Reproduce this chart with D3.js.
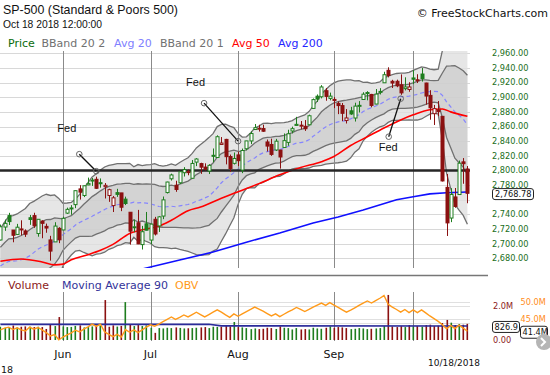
<!DOCTYPE html>
<html><head><meta charset="utf-8">
<script src="https://cdn.jsdelivr.net/npm/d3@7"></script>
<style>html,body{margin:0;padding:0;background:#fff;overflow:hidden}</style>
</head><body><svg id="c" width="550" height="375"></svg>
<script>
// ---------- DATA ----------
const dates = ["2018-05-10","2018-05-11","2018-05-14","2018-05-15","2018-05-16","2018-05-17","2018-05-18","2018-05-21","2018-05-22","2018-05-23","2018-05-24","2018-05-25","2018-05-29","2018-05-30","2018-05-31",
"2018-06-01","2018-06-04","2018-06-05","2018-06-06","2018-06-07","2018-06-08","2018-06-11","2018-06-12","2018-06-13","2018-06-14","2018-06-15","2018-06-18","2018-06-19","2018-06-20","2018-06-21","2018-06-22","2018-06-25","2018-06-26","2018-06-27","2018-06-28","2018-06-29",
"2018-07-02","2018-07-03","2018-07-05","2018-07-06","2018-07-09","2018-07-10","2018-07-11","2018-07-12","2018-07-13","2018-07-16","2018-07-17","2018-07-18","2018-07-19","2018-07-20","2018-07-23","2018-07-24","2018-07-25","2018-07-26","2018-07-27","2018-07-30","2018-07-31",
"2018-08-01","2018-08-02","2018-08-03","2018-08-06","2018-08-07","2018-08-08","2018-08-09","2018-08-10","2018-08-13","2018-08-14","2018-08-15","2018-08-16","2018-08-17","2018-08-20","2018-08-21","2018-08-22","2018-08-23","2018-08-24","2018-08-27","2018-08-28","2018-08-29","2018-08-30","2018-08-31",
"2018-09-04","2018-09-05","2018-09-06","2018-09-07","2018-09-10","2018-09-11","2018-09-12","2018-09-13","2018-09-14","2018-09-17","2018-09-18","2018-09-19","2018-09-20","2018-09-21","2018-09-24","2018-09-25","2018-09-26","2018-09-27","2018-09-28",
"2018-10-01","2018-10-02","2018-10-03","2018-10-04","2018-10-05","2018-10-08","2018-10-09","2018-10-10","2018-10-11","2018-10-12","2018-10-15","2018-10-16","2018-10-17","2018-10-18"];

const opens = [2705.0,2722.7,2738.3,2718.6,2712.6,2719.7,2717.4,2735.4,2738.3,2713.9,2730.9,2723.6,2705.1,2702.4,2720.9,
2718.7,2741.7,2748.5,2753.3,2774.8,2765.8,2780.2,2785.6,2787.9,2783.2,2777.8,2765.8,2752.0,2769.7,2769.3,2760.8,2742.9,2722.1,2728.5,2698.7,2727.1,
2704.9,2733.3,2724.2,2737.7,2769.8,2788.6,2779.8,2783.1,2796.9,2797.4,2789.3,2811.4,2809.4,2804.6,2799.2,2820.7,2817.7,2835.5,2842.4,2819.0,2809.7,
2821.2,2800.5,2829.6,2840.3,2855.9,2856.8,2857.2,2838.9,2835.5,2827.9,2827.9,2831.4,2838.3,2853.9,2861.5,2861.0,2860.3,2862.4,2884.7,2901.4,2900.6,2908.9,2898.4,
2897.0,2891.6,2888.6,2868.3,2881.4,2871.6,2888.3,2896.9,2906.4,2903.8,2890.7,2906.6,2919.7,2936.8,2921.8,2921.8,2917.0,2911.7,2910.6,
2926.3,2923.8,2931.7,2919.4,2902.5,2877.5,2882.5,2873.9,2776.9,2735.0,2763.8,2767.1,2811.7,2802.0];

const highs = [2726.1,2732.9,2742.1,2718.6,2727.0,2731.9,2719.5,2739.2,2742.2,2733.3,2731.9,2727.4,2710.7,2729.3,2722.5,
2736.9,2749.2,2752.6,2772.4,2779.9,2779.4,2790.2,2789.8,2791.5,2789.1,2782.8,2775.0,2765.1,2774.9,2769.3,2764.2,2742.9,2732.9,2746.1,2724.3,2743.3,
2727.3,2736.6,2737.8,2764.4,2784.6,2795.6,2785.9,2799.2,2804.5,2801.2,2814.2,2816.8,2810.5,2809.7,2808.6,2830.0,2848.0,2845.6,2843.2,2821.7,2824.5,
2825.8,2829.9,2840.4,2853.3,2863.4,2862.4,2862.5,2842.2,2843.4,2843.1,2827.9,2850.5,2855.6,2859.8,2873.2,2867.5,2868.8,2876.2,2898.3,2903.8,2916.5,2912.5,2906.3,
2900.2,2894.2,2892.1,2883.8,2886.9,2892.5,2894.7,2906.8,2908.3,2904.6,2911.2,2912.4,2934.8,2940.9,2923.8,2924.0,2931.2,2927.2,2920.5,
2937.1,2931.4,2939.9,2919.8,2909.6,2889.5,2894.8,2874.0,2795.1,2775.8,2776.0,2813.5,2816.9,2806.0];

const lows = [2704.5,2717.5,2725.5,2701.9,2712.2,2711.4,2709.2,2725.7,2721.6,2709.5,2707.4,2714.9,2676.8,2702.4,2700.7,
2718.7,2740.5,2739.5,2748.5,2760.2,2763.6,2779.9,2778.8,2774.7,2776.5,2761.7,2757.1,2743.2,2763.9,2744.4,2752.7,2698.7,2715.6,2699.4,2692.0,2718.0,
2699.0,2711.2,2716.0,2733.5,2768.5,2786.2,2770.8,2781.5,2791.7,2793.4,2789.2,2805.9,2795.3,2800.0,2795.1,2811.1,2817.0,2835.3,2808.3,2798.1,2808.1,
2805.9,2796.3,2827.4,2836.0,2855.9,2853.1,2852.7,2825.8,2819.9,2826.6,2802.5,2831.4,2833.7,2850.6,2861.3,2856.1,2854.0,2862.4,2884.7,2893.5,2898.4,2895.2,2895.8,
2885.1,2876.9,2867.3,2864.1,2875.9,2866.8,2879.2,2896.4,2895.8,2886.2,2890.4,2903.8,2919.7,2927.1,2912.6,2913.7,2903.3,2909.3,2907.5,
2917.9,2919.4,2921.4,2889.9,2869.3,2862.1,2874.3,2784.9,2710.5,2729.4,2749.0,2766.9,2781.8,2755.2];

const closes = [2723.07,2727.72,2730.13,2711.45,2722.46,2720.13,2712.97,2733.01,2724.44,2733.29,2727.76,2721.33,2689.86,2724.01,2705.27,
2734.62,2746.87,2748.80,2772.35,2770.37,2779.03,2782.00,2786.85,2775.63,2782.49,2779.66,2773.75,2762.59,2767.32,2749.76,2754.88,2717.07,2723.06,2699.63,2716.31,2718.37,
2726.71,2713.22,2736.61,2759.82,2784.17,2793.84,2774.02,2798.29,2801.31,2798.43,2809.55,2815.62,2804.49,2801.83,2806.98,2820.40,2846.07,2837.44,2818.82,2802.60,2816.29,
2813.36,2827.22,2840.35,2850.40,2858.45,2857.70,2853.58,2833.28,2821.93,2839.96,2818.37,2840.69,2850.13,2857.05,2862.96,2861.82,2856.98,2874.69,2896.74,2897.52,2914.04,2901.13,2901.52,
2896.72,2888.60,2878.05,2871.68,2877.13,2887.89,2888.92,2904.18,2904.98,2888.80,2904.31,2907.95,2930.75,2929.67,2919.37,2915.56,2905.97,2914.00,2913.98,
2924.59,2923.43,2925.51,2901.61,2885.57,2884.43,2880.34,2785.68,2728.37,2767.13,2750.79,2809.92,2809.21,2768.78];

// closes before the first visible day (for the 20-day Bollinger warm-up)
const priorCloses = [2663.99,2656.30,2677.84,2706.39,2708.64,2693.13,2670.14,2670.29,2634.56,2639.40,2666.94,2669.91,2648.05,2654.80,2635.67,2629.73,2663.42,2672.63,2671.92,2697.79];

const volumes = [780,720,760,850,740,780,800,780,760,780,760,650,900,820,1350,
800,760,770,830,860,740,760,800,860,840,2350,780,860,790,830,2230,900,820,880,820,860,
720,420,700,680,720,700,740,710,680,690,700,720,740,760,700,780,770,780,820,800,1060,
760,740,700,640,680,640,660,720,700,650,800,720,700,620,700,620,640,620,720,680,660,720,800,
720,760,740,700,640,660,700,680,640,660,680,700,820,2650,800,760,820,760,880,
800,820,780,880,900,820,840,1000,1180,1020,880,940,900,950];

const obv = [41.8,42.3,42.6,41.9,42.4,41.8,41.5,42.6,42.0,42.5,41.8,41.0,40.0,40.4,38.9,
39.7,40.3,40.9,41.7,41.2,42.0,42.7,43.5,42.8,43.5,41.2,40.5,39.8,40.5,39.7,41.9,41.1,41.8,41.0,41.8,42.6,
43.3,42.9,43.5,44.2,44.9,45.6,44.9,45.5,46.2,45.6,46.3,47.0,46.3,45.6,46.3,47.0,47.7,47.0,46.2,45.5,46.5,
45.8,46.5,47.2,47.8,48.5,47.9,47.3,46.6,45.9,46.5,45.7,46.4,47.1,47.7,48.4,47.8,47.2,47.8,48.5,49.1,49.7,49.0,49.8,
49.1,48.4,47.7,47.0,47.6,48.3,49.0,49.7,50.3,49.7,50.4,51.1,51.9,49.3,48.5,47.8,47.0,47.8,46.9,
47.7,46.9,47.7,46.8,45.9,45.1,44.3,43.3,42.1,43.1,42.2,43.2,42.3,41.4];

const ma90Dates = ["2018-05-10","2018-07-23","2018-07-26","2018-10-18"];
const ma90Values = [922, 922, 832, 826.9];

const avg50Dates = ["2018-05-10","2018-05-17","2018-05-24","2018-05-30","2018-06-01","2018-06-05","2018-06-11","2018-06-14","2018-06-19","2018-06-25","2018-06-28","2018-07-02","2018-07-05","2018-07-10","2018-07-16","2018-07-19","2018-07-26","2018-08-01","2018-08-08","2018-08-15","2018-08-22","2018-08-29","2018-09-04","2018-09-10","2018-09-14","2018-09-20","2018-09-26","2018-10-01","2018-10-05","2018-10-10","2018-10-12","2018-10-18"];
const avg50Values = [2676,2679,2675,2671,2672,2678,2685,2691,2699,2714,2719,2721,2724,2732,2745,2750,2762,2771,2782,2794,2804,2812,2819,2834,2846,2858,2869,2876,2883,2884,2880,2874];

const avg200Dates = ["2018-05-10","2018-06-01","2018-06-22","2018-07-02","2018-07-12","2018-07-24","2018-08-03","2018-08-15","2018-08-27","2018-09-05","2018-09-13","2018-09-25","2018-10-01","2018-10-05","2018-10-11","2018-10-18"];
const avg200Values = [2618,2639,2660,2668,2677.6,2688.5,2702,2714.6,2728.3,2736.5,2746,2760,2764,2768,2769.5,2770.6];

// 2,760.00 and 1.0M are hidden behind the last-value boxes in the reference
const priceTicks = [2680,2700,2720,2740,2780,2800,2820,2840,2860,2880,2900,2920,2940,2960];
const gridTicks = [2680,2700,2720,2740,2760,2780,2800,2820,2840,2860,2880,2900,2920,2940,2960];
const monthStarts = ["2018-06-01","2018-07-02","2018-08-01","2018-09-04","2018-10-01"];
const monthLabels = ["Jun","Jul","Aug","Sep"];
const volTicks = [0,2000];
const volTickLabels = ["0.00","2.0M"];
const obvTicks = [45,50];
const obvTickLabels = ["45.0M","50.0M"];
const fedDates = ["2018-06-13","2018-08-01","2018-09-26"];
const fedValues = [2799,2840,2898];
const supportLevel = 2800;
const lastPriceLabel = "2,768.78";
const lastVolMaLabel = "826.9";
const lastObvLabel = "41.4M";

// ---------- CHART ----------
const svg = d3.select("#c");
const F = "'DejaVu Sans', Verdana, sans-serif";
const FA = "'Liberation Sans', Arial, sans-serif";
const green = "#1e7d1e", red = "#8b1111";

const x = d3.scalePoint().domain(dates).range([0.4, 467.4]);
const y = d3.scaleLinear().domain([2680, 2960]).range([258.3, 53.3]);
const yV = d3.scaleLinear().domain([0, 2000]).range([340, 306]);
const yO = d3.scaleLinear().domain([45, 50]).range([319, 302]);

const defs = svg.append("defs");
defs.append("clipPath").attr("id","cp").append("rect").attr("x",0).attr("y",51).attr("width",470).attr("height",217);
defs.append("clipPath").attr("id","cv").append("rect").attr("x",0).attr("y",291).attr("width",470).attr("height",50);

// header texts
svg.append("text").attr("x",3).attr("y",14).attr("font-family",FA).attr("font-size",12.4).attr("fill","#111").text("SP-500 (Standard & Poors 500)");
svg.append("text").attr("x",3).attr("y",28).attr("font-family",FA).attr("font-size",10.3).attr("fill","#111").text("Oct 18 2018 12:00:00");
svg.append("text").attr("x",548).attr("y",17).attr("text-anchor","end").attr("font-family",F).attr("font-size",11).attr("fill","#111").text("© FreeStockCharts.com");

const legend = [["Price","#0b6b0b",8],["BBand 20 2","#707070",41.5],["Avg 20","#8080ff",114],["BBand 20 1","#707070",160],["Avg 50","#ff0000",232],["Avg 200","#2525ff",278]];
svg.selectAll("text.lg").data(legend).join("text").attr("class","lg")
  .attr("x",d=>d[2]).attr("y",46.5).attr("font-family",F).attr("font-size",11).attr("fill",d=>d[1]).text(d=>d[0]);

// price panel
const gp = svg.append("g").attr("clip-path","url(#cp)");
gp.selectAll("line.hg").data(gridTicks).join("line").attr("class","hg")
  .attr("x1",0).attr("x2",470).attr("y1",d=>Math.round(y(d))+0.5).attr("y2",d=>Math.round(y(d))+0.5)
  .attr("stroke","#dedede").attr("stroke-width",1);

// Bollinger bands (20-day SMA +/- 1 and 2 std)
const all = priorCloses.concat(closes), off = priorCloses.length;
const bb = closes.map((c,i)=>{
  const w = all.slice(off+i-19, off+i+1);
  const m = d3.mean(w);
  const sd = Math.sqrt(d3.mean(w, v=>(v-m)*(v-m)));
  return {d:dates[i], m, sd};
});
const band = k => d3.area().x(d=>x(d.d)).y0(d=>y(d.m-k*d.sd)).y1(d=>y(d.m+k*d.sd));
gp.append("path").datum(bb).attr("d",band(2)).attr("fill","#e6e6e6");
gp.append("path").datum(bb).attr("d",band(1)).attr("fill","#d3d3d3");
gp.selectAll("line.hg2").data(gridTicks).join("line").attr("class","hg2")
  .attr("x1",0).attr("x2",470).attr("y1",d=>Math.round(y(d))+0.5).attr("y2",d=>Math.round(y(d))+0.5)
  .attr("stroke","#c8c8c8").attr("stroke-opacity",0.25);
[2,1,-1,-2].forEach(k=>{
  gp.append("path").datum(bb).attr("d",d3.line().x(d=>x(d.d)).y(d=>y(d.m+k*d.sd)))
    .attr("fill","none").attr("stroke","#707070").attr("stroke-width",1.3);
});
gp.append("path").datum(bb).attr("d",d3.line().x(d=>x(d.d)).y(d=>y(d.m)))
  .attr("fill","none").attr("stroke","#8585ff").attr("stroke-width",1.2).attr("stroke-dasharray","4,3");

// month lines
gp.selectAll("line.mv").data(monthStarts).join("line").attr("class","mv")
  .attr("x1",d=>Math.round(x(d))+0.5).attr("x2",d=>Math.round(x(d))+0.5).attr("y1",51).attr("y2",268)
  .attr("stroke","#8a8a8a").attr("stroke-width",1);

// moving averages
gp.append("path").datum(avg200Dates.map((d,i)=>[d,avg200Values[i]]))
  .attr("d",d3.line().x(d=>x(d[0])).y(d=>y(d[1]))).attr("fill","none").attr("stroke","#1010ff").attr("stroke-width",1.6);
gp.append("path").datum(avg50Dates.map((d,i)=>[d,avg50Values[i]]))
  .attr("d",d3.line().curve(d3.curveMonotoneX).x(d=>x(d[0])).y(d=>y(d[1]))).attr("fill","none").attr("stroke","#ff0000").attr("stroke-width",1.6);

// support line
gp.append("line").attr("x1",0).attr("x2",470).attr("y1",y(supportLevel)).attr("y2",y(supportLevel))
  .attr("stroke","#262626").attr("stroke-width",2.6);

// candles
const cd = dates.map((d,i)=>({d, o:opens[i], h:highs[i], l:lows[i], c:closes[i], pc: i? closes[i-1] : priorCloses[priorCloses.length-1]}));
const cg = gp.selectAll("g.cd").data(cd).join("g").attr("class","cd");
const col = d => d.c >= d.pc ? green : red;
cg.append("line").attr("x1",d=>Math.round(x(d.d))+0.5).attr("x2",d=>Math.round(x(d.d))+0.5)
  .attr("y1",d=>y(d.h)).attr("y2",d=>y(d.l)).attr("stroke",col).attr("stroke-width",1);
cg.append("rect").attr("x",d=>Math.round(x(d.d))-1).attr("width",3)
  .attr("y",d=>y(Math.max(d.o,d.c))).attr("height",d=>Math.max(1,Math.abs(y(d.o)-y(d.c))))
  .attr("fill",d=>d.c>d.o?"#ffffff":col(d)).attr("stroke",col).attr("stroke-width",1);

// Fed annotations
const fedOff = [[-17,-17,-22,-22],[-34,-38,-18,-17],[-12,38,-10,14]];
fedDates.forEach((d,i)=>{
  const ax = x(d), ay = y(fedValues[i]), o = fedOff[i];
  const bx = ax+o[0], by = ay+o[1];
  svg.append("line").attr("x1",ax).attr("y1",ay).attr("x2",bx).attr("y2",by).attr("stroke","#111").attr("stroke-width",1.3);
  svg.append("circle").attr("cx",ax).attr("cy",ay).attr("r",2.8).attr("fill","none").attr("stroke","#666").attr("stroke-width",1);
  svg.append("circle").attr("cx",bx).attr("cy",by).attr("r",2.8).attr("fill","none").attr("stroke","#666").attr("stroke-width",1);
  svg.append("text").attr("x",bx+o[2]).attr("y",by+o[3]).attr("font-family",FA).attr("font-size",11).attr("fill","#111").text("Fed");
});

// price axis labels
svg.selectAll("text.py").data(priceTicks).join("text").attr("class","py")
  .attr("x",492).attr("y",d=>y(d)).attr("dy","0.35em").attr("font-family",F).attr("font-size",8.2).attr("fill","#1a6e1a")
  .text(d=>d3.format(",.2f")(d));
const lp = y(closes[closes.length-1]) + 0.8;
svg.append("rect").attr("x",492.5).attr("y",lp-5.5).attr("width",41).attr("height",11).attr("rx",2.5)
  .attr("fill","#fff").attr("stroke","#222").attr("stroke-width",1);
svg.append("text").attr("x",495).attr("y",lp).attr("dy","0.35em").attr("font-family",F).attr("font-size",8.2).attr("fill","#111").text(lastPriceLabel);

// panel separator
svg.append("line").attr("x1",0).attr("x2",488).attr("y1",275.5).attr("y2",275.5).attr("stroke","#777").attr("stroke-width",1.5);

// volume panel legend
const vleg = [["Volume","#8b1a1a",8],["Moving Average 90","#333399",62],["OBV","#ff9a1a",175]];
svg.selectAll("text.vl").data(vleg).join("text").attr("class","vl")
  .attr("x",d=>d[2]).attr("y",289).attr("font-family",F).attr("font-size",11).attr("fill",d=>d[1]).text(d=>d[0]);

const gv = svg.append("g").attr("clip-path","url(#cv)");
gv.selectAll("line.vg").data([yV(1000),yV(2000),yO(45),yO(50)]).join("line").attr("class","vg")
  .attr("x1",0).attr("x2",470).attr("y1",d=>Math.round(d)+0.5).attr("y2",d=>Math.round(d)+0.5).attr("stroke","#e0e0e0");
gv.selectAll("line.mv2").data(monthStarts).join("line").attr("class","mv2")
  .attr("x1",d=>Math.round(x(d))+0.5).attr("x2",d=>Math.round(x(d))+0.5).attr("y1",292).attr("y2",341)
  .attr("stroke","#8a8a8a").attr("stroke-width",1);
gv.selectAll("rect.vb").data(cd).join("rect").attr("class","vb")
  .attr("x",d=>Math.round(x(d.d))-0.5).attr("width",1.6)
  .attr("y",(d,i)=>yV(volumes[i])).attr("height",(d,i)=>yV(0)-yV(volumes[i]))
  .attr("fill",col);
gv.append("path").datum(ma90Dates.map((d,i)=>[d,ma90Values[i]]))
  .attr("d",d3.line().x(d=>x(d[0])).y(d=>yV(d[1]))).attr("fill","none").attr("stroke","#2b2b9a").attr("stroke-width",1.6);
gv.append("path").datum(dates.map((d,i)=>[d,obv[i]]))
  .attr("d",d3.line().x(d=>x(d[0])).y(d=>yO(d[1]))).attr("fill","none").attr("stroke","#ff9a1a").attr("stroke-width",1.4);

// volume axis labels
svg.selectAll("text.vy").data(volTicks).join("text").attr("class","vy")
  .attr("x",493).attr("y",d=>yV(d)).attr("dy","0.35em").attr("font-family",F).attr("font-size",8.2).attr("fill","#8b1a1a")
  .text((d,i)=>volTickLabels[i]);
svg.selectAll("text.oy").data(obvTicks).join("text").attr("class","oy")
  .attr("x",520.5).attr("y",d=>yO(d)).attr("dy","0.35em").attr("font-family",F).attr("font-size",8.2).attr("fill","#ff8c1a")
  .text((d,i)=>obvTickLabels[i]);
const vmy = yV(ma90Values[ma90Values.length-1]) + 1;
svg.append("rect").attr("x",492.5).attr("y",vmy-5.5).attr("width",27).attr("height",11).attr("rx",2.5)
  .attr("fill","#fff").attr("stroke","#222");
svg.append("text").attr("x",494.5).attr("y",vmy).attr("dy","0.35em").attr("font-family",F).attr("font-size",8.2).attr("fill","#111").text(lastVolMaLabel);
const oby = yO(obv[obv.length-1]) + 1;
svg.append("rect").attr("x",520.5).attr("y",oby-6).attr("width",27).attr("height",12).attr("rx",2.5)
  .attr("fill","#fff").attr("stroke","#222");
svg.append("text").attr("x",522.5).attr("y",oby).attr("dy","0.35em").attr("font-family",F).attr("font-size",8.2).attr("fill","#111").text(lastObvLabel);

// nav button
svg.append("circle").attr("cx",544).attr("cy",342).attr("r",8).attr("fill","#b5b5b5");
svg.append("path").attr("d","M541,338 L545,342 L541,346").attr("fill","none").attr("stroke","#fff").attr("stroke-width",2);

// x axis labels
svg.selectAll("text.mx").data(monthLabels).join("text").attr("class","mx")
  .attr("x",(d,i)=>x(monthStarts[i])).attr("y",358).attr("text-anchor","middle")
  .attr("font-family",F).attr("font-size",11).attr("fill","#111").text(d=>d);
svg.append("text").attr("x",1).attr("y",373).attr("font-family",F).attr("font-size",9.5).attr("fill","#111").text("18");
svg.append("text").attr("x",428).attr("y",366).attr("font-family",F).attr("font-size",9).attr("fill","#111").text("10/18/2018");
</script>
</body></html>
